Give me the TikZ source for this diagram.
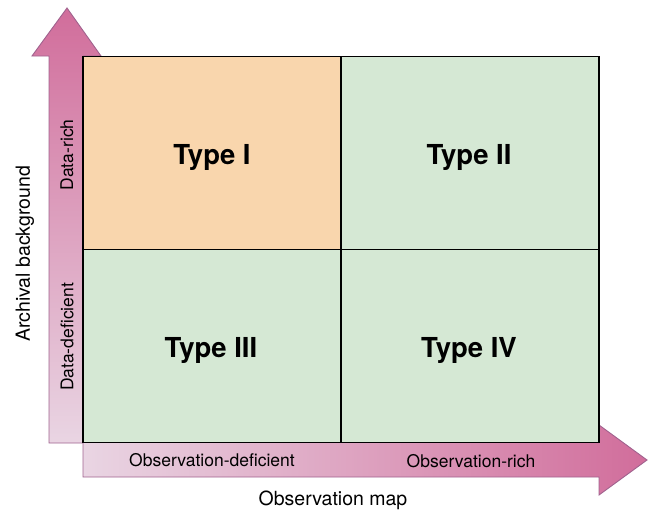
\documentclass[tikz,border=0pt]{standalone}
\usepackage{fontspec}
\setmainfont{TeX Gyre Heros}
\definecolor{cellorange}{HTML}{F9D6AD}
\definecolor{cellgreen}{HTML}{D5E8D4}
\definecolor{arrowdark}{HTML}{D16D9B}
\definecolor{arrowlight}{HTML}{E9D5E3}
\definecolor{arrowedge}{HTML}{A0628E}
\tikzset{
  cell/.style={draw=black, line width=1.4pt, minimum width=258pt, minimum height=193pt, inner sep=0pt},
  typelab/.style={anchor=base, inner sep=0pt, font=\fontsize{27.5}{30}\selectfont\bfseries},
  axlab/.style={font=\fontsize{17.5}{20}\selectfont, inner sep=0pt},
  axtitle/.style={font=\fontsize{19.5}{22}\selectfont, inner sep=0pt},
  arrowline/.style={draw=arrowedge, line width=0.9pt, line join=miter}
}
\begin{document}
\begin{tikzpicture}[x=1pt,y=-1pt]
\useasboundingbox (0,0) rectangle (649,512);
% vertical arrow
\shade[top color=arrowdark, bottom color=arrowlight]
  (49,443) -- (49,56) -- (32,56) -- (67,8) -- (101,56) -- (83,56) -- (83,443) -- cycle;
\draw[arrowline] (83,443) -- (49,443) -- (49,56) -- (32,56) -- (67,8) -- (101,56) -- (83,56);
% horizontal arrow
\shade[left color=arrowlight, right color=arrowdark]
  (83,443) -- (599,443) -- (599,425) -- (647,460) -- (599,495) -- (599,477) -- (83,477) -- cycle;
\draw[arrowline] (83,443) -- (83,477) -- (599,477) -- (599,495) -- (647,460) -- (599,425) -- (599,443);
% cells
\node[cell, fill=cellorange] (c1) at (212,153) {};
\node[cell, fill=cellgreen] (c2) at (470,153) {};
\node[cell, fill=cellgreen] (c3) at (212,346) {};
\node[cell, fill=cellgreen] (c4) at (470,346) {};
\node[typelab] (t1) at (212,164) {Type I};
\node[typelab] (t2) at (469,164) {Type II};
\node[typelab] (t3) at (211,357) {Type III};
\node[typelab] (t4) at (469,357) {Type IV};
% axis labels
\node[axlab, rotate=90] (drich) at (67,155) {Data-rich};
\node[axlab, rotate=90] (ddef) at (67,337) {Data-deficient};
\node[axlab] (odef) at (212,460) {Observation-deficient};
\node[axlab] (orich) at (471,461) {Observation-rich};
\node[axtitle, rotate=90] (ytitle) at (25,254) {Archival background};
\node[axtitle] (xtitle) at (333,500) {Observation map};
\end{tikzpicture}
\end{document}
